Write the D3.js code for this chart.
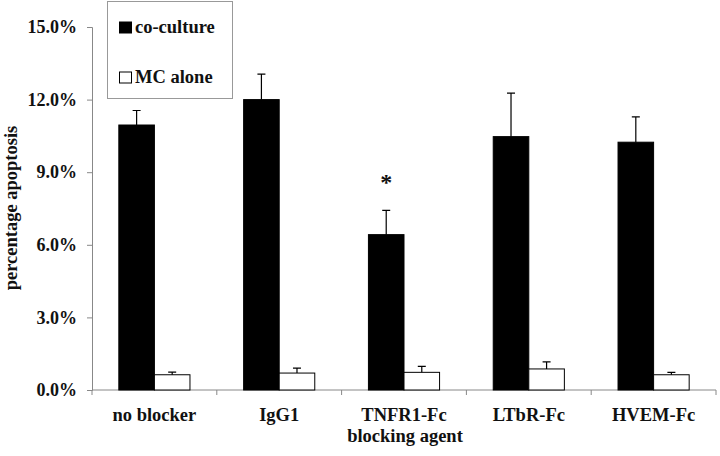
<!DOCTYPE html>
<html>
<head>
<meta charset="utf-8">
<script src="https://cdn.jsdelivr.net/npm/d3@7"></script>
<style>
  body { margin: 0; background: #fff; }
  svg text { font-family: "Liberation Serif", "Times New Roman", "DejaVu Serif", serif; font-weight: bold; fill: #111; }
</style>
</head>
<body>
<svg id="chart" width="720" height="456"></svg>
<script>
const categories = ["no blocker", "IgG1", "TNFR1-Fc", "LTbR-Fc", "HVEM-Fc"];
const seriesNames = ["co-culture", "MC alone"];
const coculture = [10.95, 12.0, 6.42, 10.47, 10.24];
const cocultureErr = [0.6, 1.05, 1.0, 1.8, 1.05];
const mcAlone = [0.63, 0.70, 0.73, 0.87, 0.63];
const mcAloneErr = [0.11, 0.20, 0.25, 0.29, 0.10];
const yTicks = [0, 3, 6, 9, 12, 15];
const significant = [false, false, true, false, false];

(function () {
const svg = d3.select("#chart");
const mLeft = 92, mRight = 716, mTop = 27, mBottom = 390;

const x0 = d3.scaleBand().domain(categories).range([mLeft, mRight]).paddingInner(0.43).paddingOuter(0.215);
const x1 = d3.scaleBand().domain(seriesNames).range([0, x0.bandwidth()]);
const y = d3.scaleLinear().domain([0, 15]).range([mBottom, mTop]);

const data = categories.map((c, i) => ({
  cat: c,
  vals: [
    { s: seriesNames[0], v: coculture[i], e: cocultureErr[i] },
    { s: seriesNames[1], v: mcAlone[i], e: mcAloneErr[i] }
  ],
  sig: significant[i]
}));

// Y axis
const yAxis = d3.axisLeft(y).tickValues(yTicks).tickSize(5).tickPadding(10)
  .tickFormat(d => d3.format(".1f")(d) + "%");
const gy = svg.append("g").attr("transform", `translate(${mLeft},0)`).call(yAxis);
gy.attr("font-family", null);
gy.select(".domain").attr("stroke", "#888");
gy.selectAll(".tick line").attr("stroke", "#888");
gy.selectAll(".tick text").style("font-size", "18px").attr("fill", "#111");

// X axis (ticks at category boundaries)
const step = x0.step();
const boundaries = d3.range(categories.length + 1).map(i => mLeft + i * step);
svg.append("line").attr("x1", mLeft).attr("x2", mRight).attr("y1", mBottom).attr("y2", mBottom).attr("stroke", "#888");
svg.selectAll(".xtick").data(boundaries).enter().append("line")
  .attr("x1", d => d).attr("x2", d => d).attr("y1", mBottom).attr("y2", mBottom + 5).attr("stroke", "#888");
svg.selectAll(".xlabel").data(categories).enter().append("text")
  .attr("x", d => x0(d) + x0.bandwidth() / 2).attr("y", 421)
  .attr("text-anchor", "middle").style("font-size", "18.5px").text(d => d);

// Bars
const groups = svg.selectAll(".grp").data(data).enter().append("g")
  .attr("transform", d => `translate(${x0(d.cat)},0)`);
groups.selectAll("rect").data(d => d.vals).enter().append("rect")
  .attr("x", d => x1(d.s)).attr("width", x1.bandwidth())
  .attr("y", d => y(d.v)).attr("height", d => y(0) - y(d.v))
  .attr("fill", (d, i) => i === 0 ? "#000" : "#fff")
  .attr("stroke", "#000").attr("stroke-width", 1);
// Error bars (upper only)
groups.selectAll(".err").data(d => d.vals).enter().append("path")
  .attr("d", d => {
    const cx = x1(d.s) + x1.bandwidth() / 2;
    const yt = y(d.v + d.e), yb = y(d.v);
    return `M${cx},${yb}V${yt}M${cx - 4},${yt}H${cx + 4}`;
  })
  .attr("stroke", "#000").attr("stroke-width", 1.2).attr("fill", "none");
// Significance marker
groups.filter(d => d.sig).append("text")
  .attr("x", x1(seriesNames[0]) + x1.bandwidth() / 2)
  .attr("y", d => y(d.vals[0].v + d.vals[0].e) - 20)
  .attr("text-anchor", "middle").style("font-size", "24px").text("*");

// Axis titles
svg.append("text").attr("x", 405).attr("y", 442).attr("text-anchor", "middle")
  .style("font-size", "18.5px").text("blocking agent");
svg.append("text").attr("transform", `translate(17,208) rotate(-90)`)
  .attr("text-anchor", "middle").style("font-size", "18.5px").text("percentage apoptosis");

// Legend
const lg = svg.append("g");
lg.append("rect").attr("x", 107.5).attr("y", 1.5).attr("width", 125).attr("height", 97)
  .attr("fill", "#fff").attr("stroke", "#999");
const legendY = [27.5, 77.5];
seriesNames.forEach((s, i) => {
  lg.append("rect").attr("x", 119.5).attr("y", legendY[i] - 5.5).attr("width", 12).attr("height", 11)
    .attr("fill", i === 0 ? "#000" : "#fff").attr("stroke", "#000");
  lg.append("text").attr("x", 135).attr("y", legendY[i] + 5.5).style("font-size", "18.5px").text(s);
});
})();
</script>
</body>
</html>
